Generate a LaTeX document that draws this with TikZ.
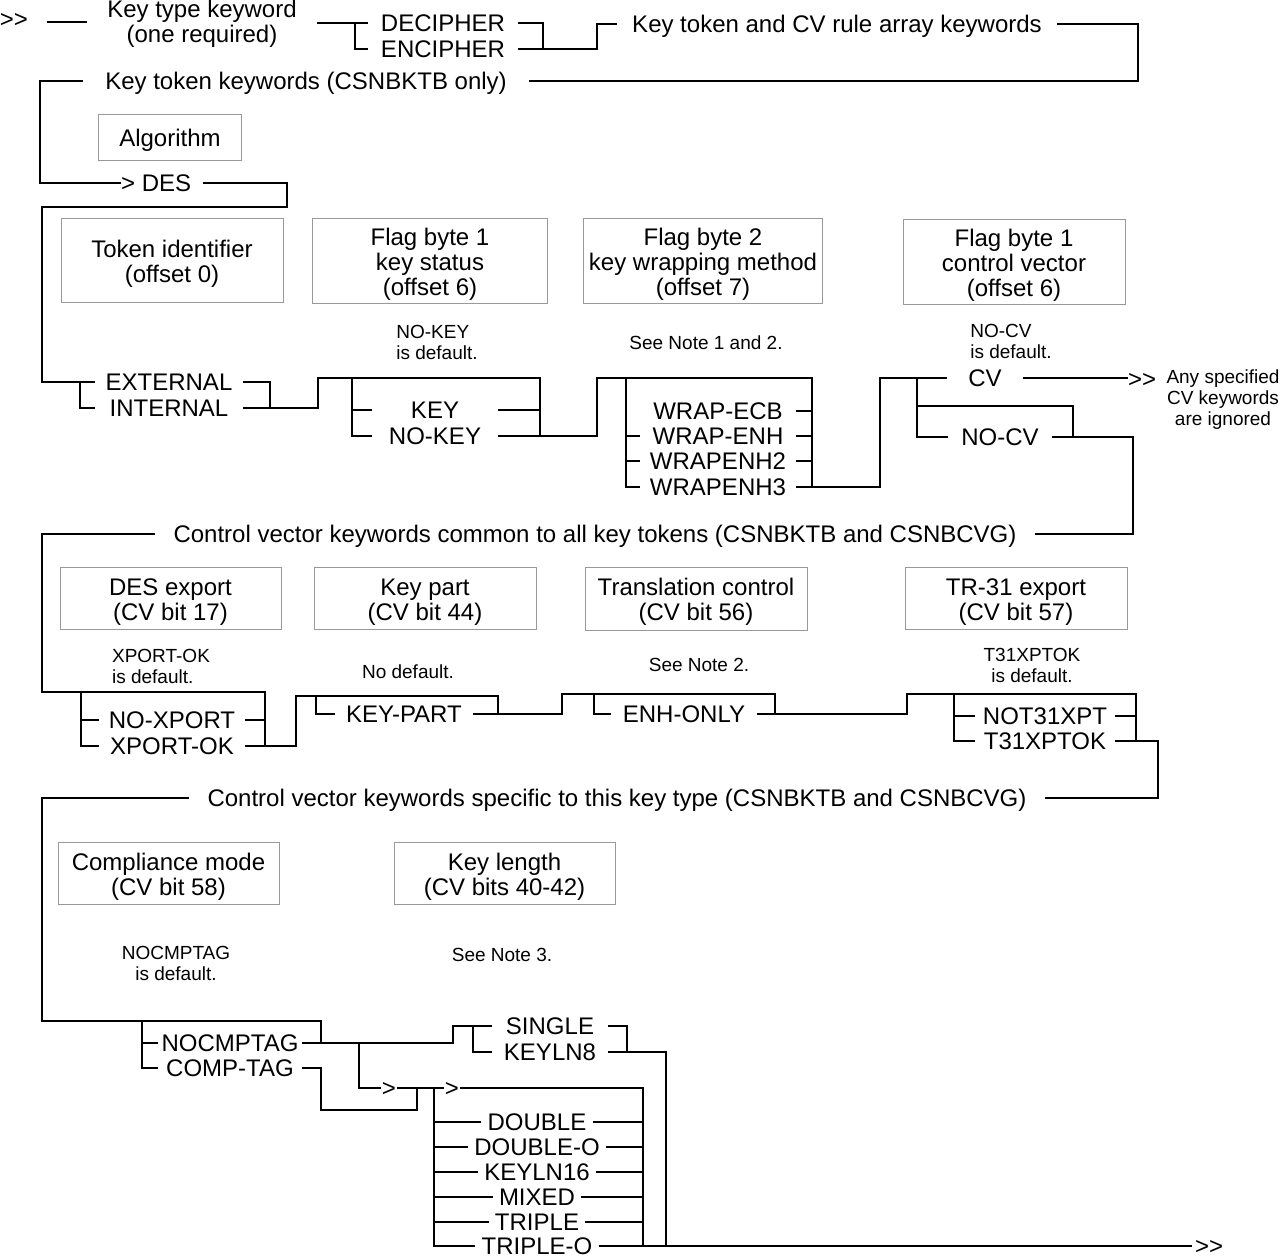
\documentclass[tikz,border=0pt]{standalone}
\usepackage{fontspec}
\setmainfont{Liberation Sans}
\usepackage{tikz}
\usetikzlibrary{calc}
\newcommand{\kwfont}{\fontsize{24}{25}\selectfont}
\newcommand{\notefont}{\fontsize{19}{21}\selectfont}
\newcommand{\more}{>\kern0pt>}
\newcommand{\fstrut}{\rule{0pt}{24pt}}
\tikzset{
  rail/.style={line width=2pt},
  kw/.style={font=\kwfont, inner sep=0pt, text height=17.2pt, text depth=0pt},
  title/.style={font=\kwfont, align=center, inner sep=0pt},
  field/.style={draw=black!40, line width=0.9pt, font=\kwfont, align=center, inner sep=0pt},
  note/.style={font=\notefont, inner sep=0pt},
}
\begin{document}
\begin{tikzpicture}[x=1pt,y=-1pt]
\useasboundingbox (0,0) rectangle (1280,1256);
% key type
\node[kw] (start) at (14,19) {\more};
\coordinate (in) at (47,22);
\node[title, minimum width=230pt] (ktk) at (202,24) {Key type keyword\\(one required)};
\node[kw, minimum width=150pt] (dec) at (443,23) {DECIPHER};
\node[kw, minimum width=150pt] (enc) at (443,49) {ENCIPHER};
\node[kw, minimum width=440pt] (kta) at (837,24) {Key token and CV rule array keywords};
\node[kw, minimum width=446pt] (ktok) at (306,81) {Key token keywords (CSNBKTB only)};
\node[field, minimum width=143pt, minimum height=46pt] (algo) at (170,137) {\fstrut Algorithm};
\node[kw, anchor=west] (des) at (121,183) {> DES};
\coordinate (d0) at (203,183);
\coordinate (j1) at (355,23);
\coordinate (j2) at (543,49);
\coordinate (j3) at (597,49);
\coordinate (j4) at (1138,50);
\coordinate (j5) at (40,81);
\coordinate (j6) at (287,207);
\coordinate (j7) at (42,207);
\draw[rail] (in) -- (in -| ktk.west);
\draw[rail] (ktk.east |- dec.west) -- (dec.west);
\draw[rail] (j1) |- (enc.west);
\draw[rail] (dec.east) -| (j2);
\draw[rail] (enc.east) -- (j3) |- (kta.west);
\draw[rail] (kta.east) -| (j4) |- (ktok.east);
\draw[rail] (ktok.west) -- (j5) |- (des.west);
% key token fields
\node[field, minimum width=222pt, minimum height=84pt] (tokid) at (172,260) {\fstrut Token identifier\\(offset 0)};
\node[field, minimum width=235pt, minimum height=85pt] (flag1) at (430,260.5) {\fstrut Flag byte 1\\key status\\(offset 6)};
\node[field, minimum width=239pt, minimum height=85pt] (flag2) at (703,260.5) {\fstrut Flag byte 2\\key wrapping method\\(offset 7)};
\node[field, minimum width=222pt, minimum height=85pt] (flagcv) at (1014,261.5) {\fstrut Flag byte 1\\control vector\\(offset 6)};
\node[note, align=left] (nkey) at (437,342) {NO-KEY\\ is default.};
\node[note] (nwrap) at (706,343) {See Note 1 and 2.};
\node[note, align=left] (ncv) at (1011,341) {NO-CV\\is default.};
\node[kw, minimum width=148pt] (ext) at (169,382) {EXTERNAL};
\node[kw, minimum width=148pt] (int) at (169,408) {INTERNAL};
\node[kw, minimum width=126pt] (key) at (435,410) {KEY};
\node[kw, minimum width=126pt] (nokey) at (435,436) {NO-KEY};
\node[kw, minimum width=156pt] (wr1) at (718,411) {WRAP-ECB};
\node[kw, minimum width=156pt] (wr2) at (718,436) {WRAP-ENH};
\node[kw, minimum width=156pt] (wr3) at (718,461) {WRAPENH2};
\node[kw, minimum width=156pt] (wr4) at (718,487) {WRAPENH3};
\node[kw, minimum width=76pt] (cv) at (985,378) {CV};
\node[kw, minimum width=104pt] (nocv) at (1000,437) {NO-CV};
\node[kw, anchor=west] (cvout) at (1128,379) {\more};
\node[note, align=center] (ign) at (1223,400) {Any specified\\CV keywords\\are ignored};
\coordinate (j8) at (80,382);
\coordinate (j9) at (270,408);
\coordinate (k0) at (318,378);
\coordinate (k1) at (352,378);
\coordinate (k2) at (540,378);
\coordinate (w0) at (597,378);
\coordinate (w1) at (626,378);
\coordinate (w2) at (812,378);
\coordinate (c0) at (880,378);
\coordinate (c1) at (917,378);
\coordinate (c2) at (1073,406);
\coordinate (n2) at (1133,534);
\draw[rail] (d0) -| (j6) -- (j7) |- (ext.west);
\draw[rail] (j8) |- (int.west);
\draw[rail] (ext.east) -| (j9);
\draw[rail] (int.east) -| (k0) -- (k2) -- (k2 |- nokey.east);
\draw[rail] (k1) |- (nokey.west);
\draw[rail] (k1 |- key.west) -- (key.west);
\draw[rail] (key.east) -- (key.east -| k2);
\draw[rail] (nokey.east) -| (w0) -- (w2) -- (w2 |- wr4.east);
\draw[rail] (w1) |- (wr4.west);
\foreach \n in {wr2,wr3} \draw[rail] (w1 |- \n.west) -- (\n.west);
\foreach \n in {wr1,wr2,wr3} \draw[rail] (\n.east) -- (\n.east -| w2);
\draw[rail] (wr4.east) -| (c0) -- (cv.west);
\draw[rail] (cv.east) -- (cv.east -| cvout.west);
\draw[rail] (c1) |- (nocv.west);
\draw[rail] (c1 |- c2) -- (c2) -- (c2 |- nocv.east);
% common control vector keywords
\node[kw, minimum width=880pt] (cvc) at (595,534) {Control vector keywords common to all key tokens (CSNBKTB and CSNBCVG)};
\draw[rail] (nocv.east) -| (n2) -- (cvc.east);
\node[field, minimum width=221pt, minimum height=62pt] (desx) at (170.5,598) {\fstrut DES export\\(CV bit 17)};
\node[field, minimum width=222pt, minimum height=62pt] (kpart) at (425,598) {\fstrut Key part\\(CV bit 44)};
\node[field, minimum width=222pt, minimum height=63pt] (trans) at (696,598.5) {\fstrut Translation control\\(CV bit 56)};
\node[field, minimum width=222pt, minimum height=62pt] (tr31) at (1016,598) {\fstrut TR-31 export\\(CV bit 57)};
\node[note, align=left] (nxp) at (161,666) {XPORT-OK\\is default.};
\node[note] (nkp) at (408,672) {No default.};
\node[note] (nn2) at (699,665) {See Note 2.};
\node[note, align=center] (nt31) at (1032,665) {T31XPTOK\\is default.};
\node[kw, minimum width=146pt] (nox) at (172,720) {NO-XPORT};
\node[kw, minimum width=146pt] (xok) at (172,746) {XPORT-OK};
\node[kw, minimum width=138pt] (kp) at (404,714) {KEY-PART};
\node[kw, minimum width=145pt] (enh) at (684,714) {ENH-ONLY};
\node[kw, minimum width=140pt] (not31) at (1045,716) {NOT31XPT};
\node[kw, minimum width=140pt] (t31) at (1045,741) {T31XPTOK};
\coordinate (r0) at (42,692);
\coordinate (r1) at (265,692);
\coordinate (r2) at (81,692);
\coordinate (p0) at (296,696);
\coordinate (p1) at (316,696);
\coordinate (p2) at (498,696);
\coordinate (p3) at (498,714);
\coordinate (q0) at (562,694);
\coordinate (q1) at (594,694);
\coordinate (q2) at (775,694);
\coordinate (q3) at (775,714);
\coordinate (t0) at (907,694);
\coordinate (t1) at (954,694);
\coordinate (t2) at (1136,694);
\coordinate (t3) at (1158,798);
\draw[rail] (cvc.west) -| (r0) -- (r1) -- (r1 |- xok.east);
\draw[rail] (r2) |- (xok.west);
\draw[rail] (r2 |- nox.west) -- (nox.west);
\draw[rail] (nox.east) -- (nox.east -| r1);
\draw[rail] (xok.east) -| (p0) -- (p2) -- (p3);
\draw[rail] (p1) |- (kp.west);
\draw[rail] (kp.east) -- (p3) -| (q0) -- (q2) -- (q3);
\draw[rail] (q1) |- (enh.west);
\draw[rail] (enh.east) -- (q3) -| (t0) -- (t2) -- (t2 |- t31.east);
\draw[rail] (t1) |- (t31.west);
\draw[rail] (t1 |- not31.west) -- (not31.west);
\draw[rail] (not31.east) -- (not31.east -| t2);
% key type specific keywords
\node[kw, minimum width=855pt] (cvs) at (617,798) {Control vector keywords specific to this key type (CSNBKTB and CSNBCVG)};
\draw[rail] (t31.east) -| (t3) -- (cvs.east);
\node[field, minimum width=221pt, minimum height=62pt] (cmode) at (168.5,873) {\fstrut Compliance mode\\(CV bit 58)};
\node[field, minimum width=221pt, minimum height=62pt] (klen) at (504.5,873) {\fstrut Key length\\(CV bits 40-42)};
\node[note, align=center] (ncmp) at (176,963) {NOCMPTAG\\is default.};
\node[note] (nn3) at (502,955) {See Note 3.};
\node[kw, minimum width=144pt] (nocmp) at (230,1043) {NOCMPTAG};
\node[kw, minimum width=144pt] (comp) at (230,1068) {COMP-TAG};
\node[kw, minimum width=116pt] (single) at (550,1026) {SINGLE};
\node[kw, minimum width=116pt] (keyln8) at (550,1052) {KEYLN8};
\node[kw, inner xsep=1pt] (gt1) at (389,1088) {>};
\node[kw, inner xsep=1pt] (gt2) at (452,1088) {>};
\foreach \n/\t/\y in {dbl/DOUBLE/1122, dblo/DOUBLE-O/1147, kl16/KEYLN16/1172, mix/MIXED/1197, trp/TRIPLE/1222, tripo/TRIPLE-O/1246}
  \node[kw, inner xsep=6pt] (\n) at (537,\y) {\t};
\node[kw, anchor=west] (endout) at (1195,1246) {\more};
\coordinate (s0) at (42,1021);
\coordinate (s1) at (142,1021);
\coordinate (s2) at (321,1021);
\coordinate (u0) at (453,1026);
\coordinate (u1) at (473,1026);
\coordinate (u3) at (627,1052);
\coordinate (u4) at (666,1246);
\coordinate (v0) at (359,1043);
\coordinate (v1) at (321,1110);
\coordinate (v2) at (417,1110);
\coordinate (v3) at (434,1088);
\coordinate (v4) at (643,1088);
\draw[rail] (cvs.west) -| (s0) -- (s2) -- (s2 |- nocmp.east);
\draw[rail] (s1) |- (comp.west);
\draw[rail] (s1 |- nocmp.west) -- (nocmp.west);
\draw[rail] (nocmp.east) -| (u0) -- (single.west);
\draw[rail] (u1) |- (keyln8.west);
\draw[rail] (single.east) -| (u3);
\draw[rail] (keyln8.east) -| (u4);
\draw[rail] (v0) |- (gt1.west);
\draw[rail] (comp.east) -| (v1) -- (v2) -- (v2 |- gt1.east);
\draw[rail] (gt1.east) -- (gt2.west);
\draw[rail] (v3) |- (tripo.west);
\draw[rail] (gt2.east) -- (v4) -- (v4 |- tripo.east);
\foreach \n in {dbl,dblo,kl16,mix,trp} {
  \draw[rail] (v3 |- \n.west) -- (\n.west);
  \draw[rail] (\n.east) -- (\n.east -| v4);
}
\draw[rail] (tripo.east) -- ([xshift=-3pt]endout.west);
\end{tikzpicture}
\end{document}
